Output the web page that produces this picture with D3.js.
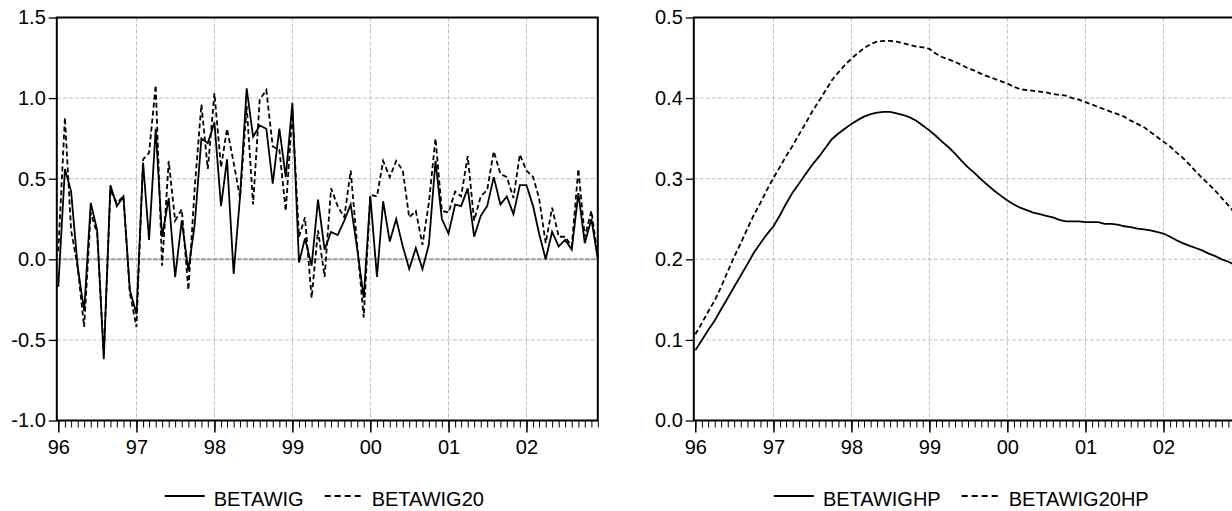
<!DOCTYPE html>
<html>
<head>
<meta charset="utf-8">
<script src="https://cdn.jsdelivr.net/npm/d3@7"></script>
<style>
body { margin: 0; background: #fff; }
text { font-family: "Liberation Sans", Arial, sans-serif; font-size: 20px; fill: #000; }
</style>
</head>
<body>
<div class="chart"></div>
<script>
var svgWidth = 1232;
var svgHeight = 511;

// monthly observations, 1996m1 .. 2002m12
var startMonth = new Date(1996, 0, 1);
var endMonth = new Date(2002, 11, 1);

var betawig = [
  -0.17, 0.56, 0.42, -0.05, -0.32, 0.35, 0.18, -0.62, 0.46, 0.33, 0.39, -0.19,
  -0.34, 0.60, 0.12, 0.81, 0.14, 0.38, -0.11, 0.24, -0.07, 0.22, 0.75, 0.72,
  0.85, 0.33, 0.62, -0.09, 0.39, 1.06, 0.76, 0.83, 0.81, 0.47, 0.81, 0.51,
  0.97, -0.02, 0.13, -0.04, 0.37, 0.06, 0.17, 0.15, 0.24, 0.34, 0.06, -0.24,
  0.39, -0.11, 0.36, 0.11, 0.25, 0.08, -0.06, 0.07, -0.06, 0.09, 0.61, 0.25,
  0.16, 0.34, 0.33, 0.44, 0.14, 0.27, 0.33, 0.51, 0.34, 0.39, 0.28, 0.46,
  0.46, 0.33, 0.16, 0.00, 0.17, 0.08, 0.12, 0.06, 0.41, 0.10, 0.25, 0.00
];
var betawig20 = [
  0.05, 0.88, 0.18, -0.05, -0.42, 0.29, 0.16, -0.59, 0.43, 0.35, 0.39, -0.21,
  -0.42, 0.62, 0.66, 1.08, -0.04, 0.61, 0.24, 0.31, -0.19, 0.45, 0.96, 0.56,
  1.03, 0.57, 0.81, 0.60, 0.38, 0.95, 0.34, 0.99, 1.05, 0.70, 0.68, 0.30,
  0.92, 0.14, 0.26, -0.24, 0.18, -0.11, 0.44, 0.33, 0.26, 0.55, 0.08, -0.36,
  0.40, 0.39, 0.61, 0.51, 0.61, 0.55, 0.26, 0.30, 0.09, 0.35, 0.75, 0.30,
  0.29, 0.42, 0.39, 0.64, 0.24, 0.39, 0.43, 0.67, 0.53, 0.51, 0.38, 0.65,
  0.55, 0.51, 0.38, 0.10, 0.32, 0.14, 0.14, 0.08, 0.56, 0.14, 0.30, 0.02
];
var betawighp = [
  0.087, 0.100, 0.112, 0.124, 0.138, 0.152, 0.166, 0.180, 0.194, 0.208, 0.220, 0.231,
  0.241, 0.255, 0.269, 0.283, 0.294, 0.306, 0.317, 0.327, 0.338, 0.349, 0.356, 0.362,
  0.368, 0.373, 0.377, 0.380, 0.382, 0.383, 0.383, 0.381, 0.379, 0.376, 0.372, 0.366,
  0.360, 0.353, 0.346, 0.339, 0.331, 0.322, 0.314, 0.307, 0.299, 0.292, 0.285, 0.279,
  0.273, 0.268, 0.264, 0.261, 0.258, 0.256, 0.254, 0.252, 0.249, 0.247, 0.247, 0.247,
  0.246, 0.246, 0.246, 0.244, 0.244, 0.243, 0.241, 0.240, 0.238, 0.237, 0.236, 0.234,
  0.232, 0.228, 0.224, 0.220, 0.217, 0.214, 0.211, 0.207, 0.204, 0.200, 0.197, 0.193
];
var betawig20hp = [
  0.107, 0.121, 0.135, 0.149, 0.166, 0.185, 0.203, 0.220, 0.238, 0.255, 0.270, 0.286,
  0.301, 0.315, 0.328, 0.341, 0.355, 0.369, 0.383, 0.396, 0.409, 0.422, 0.432, 0.441,
  0.449, 0.456, 0.462, 0.467, 0.470, 0.471, 0.471, 0.470, 0.468, 0.466, 0.464, 0.463,
  0.461, 0.455, 0.451, 0.448, 0.445, 0.441, 0.437, 0.434, 0.430, 0.427, 0.424, 0.421,
  0.418, 0.414, 0.411, 0.410, 0.409, 0.408, 0.407, 0.405, 0.404, 0.403, 0.400, 0.398,
  0.395, 0.392, 0.389, 0.386, 0.383, 0.380, 0.377, 0.372, 0.368, 0.364, 0.358, 0.352,
  0.346, 0.340, 0.333, 0.326, 0.318, 0.309, 0.301, 0.293, 0.285, 0.276, 0.267, 0.257
];

var leftTicks = [-1.0, -0.5, 0.0, 0.5, 1.0, 1.5];
var rightTicks = [0.0, 0.1, 0.2, 0.3, 0.4, 0.5];

var months = d3.timeMonth.range(startMonth, d3.timeMonth.offset(endMonth, 1));
var years = d3.timeYear.range(startMonth, new Date(2003, 0, 1));

var panels = [
  { x0: 58.3, x1: 597.8, domain: [-1.0, 1.5], ticks: leftTicks, zeroLine: true,
    series: [betawig, betawig20], names: ["BETAWIG", "BETAWIG20"] },
  { x0: 695.3, x1: 1234.8, domain: [0.0, 0.5], ticks: rightTicks, zeroLine: false,
    series: [betawighp, betawig20hp], names: ["BETAWIGHP", "BETAWIG20HP"] }
];

var plotTop = 17.5, plotBottom = 420.5;
var fmt = d => d3.format(".1f")(d).replace("\u2212", "-");

var svg = d3.select(".chart")
  .append("svg")
  .attr("width", svgWidth)
  .attr("height", svgHeight);

panels.forEach(function(p) {
  var x = d3.scaleTime().domain([startMonth, endMonth]).range([p.x0, p.x1]);
  var y = d3.scaleLinear().domain(p.domain).range([plotBottom, plotTop]);
  var left = p.x0 - 1.5;
  var g = svg.append("g");

  // grid
  g.selectAll(".hgrid")
    .data(p.ticks.filter(t => t != p.domain[0] && t != p.domain[1] && !(p.zeroLine && t == 0)))
    .enter().append("line")
    .attr("x1", left).attr("x2", p.x1)
    .attr("y1", d => y(d)).attr("y2", d => y(d))
    .attr("stroke", "#c0c0c0").attr("stroke-width", 1).attr("stroke-dasharray", "4,2");

  g.selectAll(".vgrid")
    .data(years.slice(1))
    .enter().append("line")
    .attr("x1", d => x(d)).attr("x2", d => x(d))
    .attr("y1", plotTop).attr("y2", plotBottom)
    .attr("stroke", "#c0c0c0").attr("stroke-width", 1).attr("stroke-dasharray", "4,2");

  if (p.zeroLine) {
    g.append("line")
      .attr("x1", left).attr("x2", p.x1)
      .attr("y1", y(0)).attr("y2", y(0))
      .attr("stroke", "#9e9e9e").attr("stroke-width", 2).attr("stroke-dasharray", "5,1");
  }

  // series
  var line = d3.line().x((d, i) => x(months[i])).y(d => y(d));
  g.append("path").datum(p.series[0])
    .attr("d", line).attr("fill", "none")
    .attr("stroke", "#000").attr("stroke-width", 1.8);
  g.append("path").datum(p.series[1])
    .attr("d", line).attr("fill", "none")
    .attr("stroke", "#000").attr("stroke-width", 1.8).attr("stroke-dasharray", "5,3");

  // frame
  g.append("rect")
    .attr("x", left).attr("y", plotTop)
    .attr("width", p.x1 - left).attr("height", plotBottom - plotTop)
    .attr("fill", "none").attr("stroke", "#000").attr("stroke-width", 2);

  // y axis
  var yAxis = g.append("g")
    .attr("transform", `translate(${left}, 0)`)
    .call(d3.axisLeft(y).tickValues(p.ticks).tickFormat(fmt).tickSize(8).tickPadding(3));
  yAxis.select(".domain").remove();
  yAxis.attr("font-size", null).attr("font-family", null);
  yAxis.selectAll("line").attr("stroke-width", 1.3);

  // x axis, monthly minor ticks
  var minor = g.append("g")
    .attr("transform", `translate(0, ${plotBottom})`)
    .call(d3.axisBottom(x).tickValues(months).tickSize(7).tickFormat(""));
  minor.select(".domain").remove();

  var xAxis = g.append("g")
    .attr("transform", `translate(0, ${plotBottom})`)
    .call(d3.axisBottom(x).tickValues(years).tickSize(12).tickPadding(7).tickFormat(d3.timeFormat("%y")));
  xAxis.select(".domain").remove();
  xAxis.attr("font-size", null).attr("font-family", null);
  xAxis.selectAll("line").attr("stroke-width", 1.5);

  // legend
  var leg = g.append("g");
  var t1 = leg.append("text").attr("y", 505.5).text(p.names[0]);
  var t2 = leg.append("text").attr("y", 505.5).text(p.names[1]);
  var w1 = t1.node().getComputedTextLength();
  var w2 = t2.node().getComputedTextLength();
  var total = 40 + 9 + w1 + 21 + 38 + 9 + w2;
  var cx = (left + p.x1) / 2 - 3;
  var lx = cx - total / 2;
  leg.append("line").attr("x1", lx).attr("x2", lx + 40).attr("y1", 496).attr("y2", 496)
    .attr("stroke", "#000").attr("stroke-width", 1.8);
  t1.attr("x", lx + 49);
  var lx2 = lx + 49 + w1 + 21;
  leg.append("line").attr("x1", lx2).attr("x2", lx2 + 38).attr("y1", 496).attr("y2", 496)
    .attr("stroke", "#000").attr("stroke-width", 1.8).attr("stroke-dasharray", "6,4");
  t2.attr("x", lx2 + 47);
});
</script>
</body>
</html>
